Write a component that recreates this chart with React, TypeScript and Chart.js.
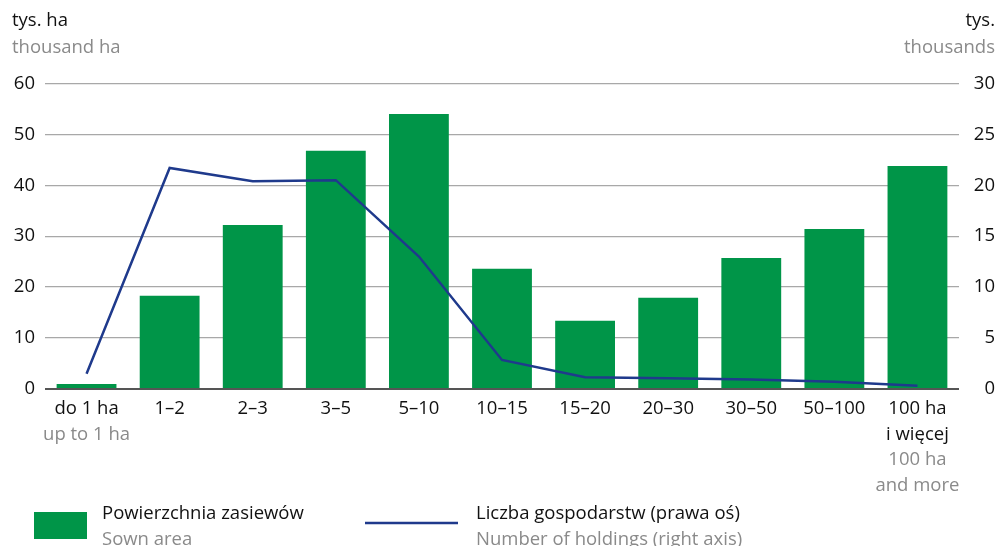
import React, { useEffect, useRef } from "react";
import { Chart, registerables } from "chart.js";

Chart.register(...registerables);

const categoriesPl: string[][] = [
  ["do 1 ha"], ["1–2"], ["2–3"], ["3–5"], ["5–10"], ["10–15"], ["15–20"], ["20–30"], ["30–50"], ["50–100"], ["100 ha", "i więcej"],
];
const categoriesEn: string[][] = [
  ["up to 1 ha"], [], [], [], [], [], [], [], [], [], ["100 ha", "and more"],
];
const sownArea: number[] = [1.0, 18.3, 32.2, 46.8, 54.0, 23.6, 13.4, 17.9, 25.7, 31.4, 43.8];
const holdings: number[] = [1.5, 21.7, 20.4, 20.5, 13.0, 2.85, 1.15, 1.05, 0.93, 0.7, 0.32];
const leftTicks: number[] = [0, 10, 20, 30, 40, 50, 60];
const rightTicks: number[] = [0, 5, 10, 15, 20, 25, 30];

const GREEN = "#009548";
const BLUE = "#1f3a8c";
const GREY_TEXT = "#8a8a8a";
const FONT = "'Open Sans', sans-serif";
const FS = 18.5;

const labelsPlugin = {
  id: "customLabels",
  afterDraw(chart: any) {
    const ctx = chart.ctx;
    const x = chart.scales.x;
    ctx.save();
    ctx.font = `${FS}px ${FONT}`;
    ctx.textBaseline = "middle";
    // axis unit titles
    ctx.textAlign = "left";
    ctx.fillStyle = "#111";
    ctx.fillText("tys. ha", 12, 21);
    ctx.fillStyle = GREY_TEXT;
    ctx.fillText("thousand ha", 12, 48);
    ctx.textAlign = "right";
    ctx.fillStyle = "#111";
    ctx.fillText("tys.", 995, 21);
    ctx.fillStyle = GREY_TEXT;
    ctx.fillText("thousands", 995, 48);
    // category labels
    ctx.textAlign = "center";
    categoriesPl.forEach((lines, i) => {
      const cx = x.getPixelForValue(i);
      let y = 409;
      lines.forEach((l) => {
        ctx.fillStyle = "#111";
        ctx.fillText(l, cx, y);
        y += 25.5;
      });
      categoriesEn[i].forEach((l) => {
        ctx.fillStyle = GREY_TEXT;
        ctx.fillText(l, cx, y);
        y += 25.5;
      });
    });
    // legend
    ctx.textAlign = "left";
    ctx.fillStyle = GREEN;
    ctx.fillRect(34, 512, 53, 27);
    ctx.fillStyle = "#111";
    ctx.fillText("Powierzchnia zasiewów", 102, 514);
    ctx.fillStyle = GREY_TEXT;
    ctx.fillText("Sown area", 102, 540);
    ctx.strokeStyle = BLUE;
    ctx.lineWidth = 2.5;
    ctx.beginPath();
    ctx.moveTo(365, 523);
    ctx.lineTo(458, 523);
    ctx.stroke();
    ctx.fillStyle = "#111";
    ctx.fillText("Liczba gospodarstw (prawa oś)", 476, 514);
    ctx.fillStyle = GREY_TEXT;
    ctx.fillText("Number of holdings (right axis)", 476, 540);
    ctx.restore();
  },
};

export default function App() {
  const ref = useRef<HTMLCanvasElement | null>(null);
  useEffect(() => {
    if (!ref.current) return;
    const chart = new Chart(ref.current, {
      type: "bar",
      data: {
        labels: categoriesPl.map((c) => c.join(" ")),
        datasets: [
          {
            type: "line",
            label: "Liczba gospodarstw (prawa oś)",
            data: holdings,
            yAxisID: "y2",
            borderColor: BLUE,
            backgroundColor: BLUE,
            borderWidth: 2.5,
            pointRadius: 0,
            tension: 0,
            order: 0,
          } as any,
          {
            type: "bar",
            label: "Powierzchnia zasiewów",
            data: sownArea,
            yAxisID: "y",
            backgroundColor: GREEN,
            barPercentage: 0.72,
            categoryPercentage: 1,
            order: 1,
          },
        ],
      },
      options: {
        responsive: false,
        animation: false,
        layout: { padding: { top: 83.4, bottom: 157, right: 3, left: 0 } },
        plugins: { legend: { display: false }, tooltip: { enabled: false } },
        scales: {
          x: { display: false },
          y: {
            position: "left",
            min: 0,
            max: 60,
            afterFit(s: any) { s.width = 45; },
            afterBuildTicks(s: any) { s.ticks = leftTicks.map((v) => ({ value: v })); },
            ticks: { color: "#111", font: { family: FONT, size: FS }, padding: 10 },
            grid: {
              drawTicks: false,
              color: (c: any) => (c.tick && c.tick.value === 0 ? "#555" : "#a8a8a8"),
              lineWidth: (c: any) => (c.tick && c.tick.value === 0 ? 2 : 1.3),
            },
            border: { display: false },
          },
          y2: {
            position: "right",
            min: 0,
            max: 30,
            afterFit(s: any) { s.width = 36; },
            afterBuildTicks(s: any) { s.ticks = rightTicks.map((v) => ({ value: v })); },
            ticks: { color: "#111", font: { family: FONT, size: FS }, padding: 6, crossAlign: "far" },
            grid: { display: false, drawTicks: false },
            border: { display: false },
          },
        },
      },
      plugins: [labelsPlugin],
    });
    return () => chart.destroy();
  }, []);
  return (
    <div style={{ position: "fixed", left: 0, top: 0, width: 998, height: 546, background: "#fff" }}>
      <canvas ref={ref} width={998} height={546} style={{ display: "block" }} />
    </div>
  );
}
